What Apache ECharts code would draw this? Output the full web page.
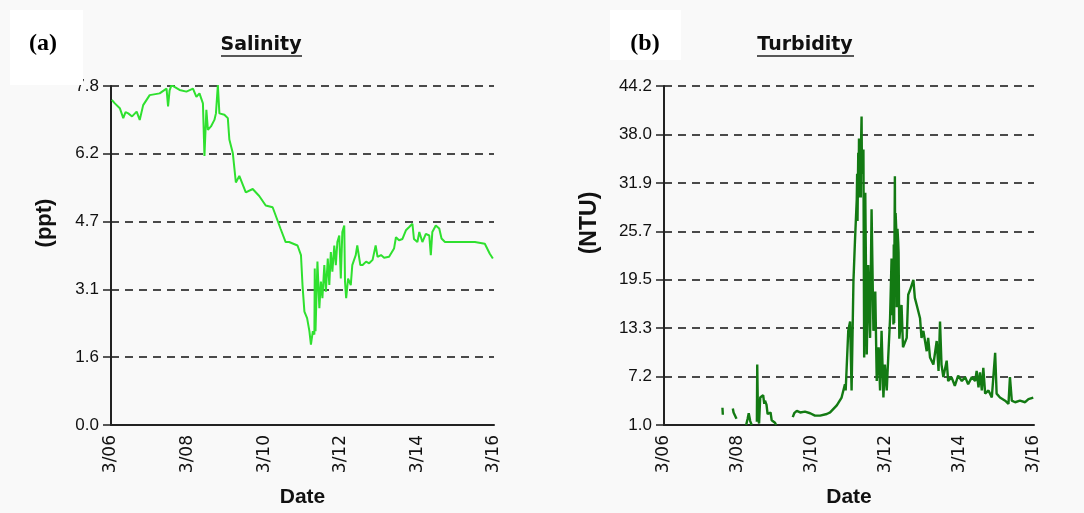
<!DOCTYPE html>
<html>
<head>
<meta charset="utf-8">
<script src="https://cdn.jsdelivr.net/npm/echarts@6/dist/echarts.min.js"></script>
<style>
html,body{margin:0;padding:0;background:#f9f9f9;}
#chart{width:1084px;height:513px;}
</style>
</head>
<body>
<div id="chart"></div>
<script>
// ---- data ----
const dateLabels = ['3/06','3/08','3/10','3/12','3/14','3/16'];
const salinityTicks = [0.0, 1.56, 3.12, 4.68, 6.24, 7.8];
const turbidityTicks = [1.0, 7.17, 13.34, 19.51, 25.69, 31.86, 38.03, 44.2];

// days since 3/06 00:00
const salinityDays = [0.02,0.10,0.23,0.32,0.38,0.45,0.55,0.67,0.75,0.84,1.01,1.27,1.45,1.49,1.53,1.58,1.79,1.97,2.14,2.23,2.31,2.40,2.44,2.49,2.53,2.61,2.70,2.74,2.79,2.83,2.96,3.05,3.09,3.18,3.26,3.35,3.52,3.70,3.87,4.04,4.22,4.30,4.43,4.56,4.65,4.87,4.96,5.00,5.05,5.12,5.18,5.22,5.27,5.31,5.32,5.34,5.39,5.44,5.48,5.52,5.57,5.61,5.66,5.70,5.74,5.78,5.83,5.87,5.91,5.96,6.00,6.04,6.09,6.11,6.14,6.19,6.26,6.30,6.39,6.43,6.48,6.51,6.57,6.66,6.74,6.83,6.91,6.96,7.05,7.13,7.26,7.39,7.44,7.52,7.61,7.70,7.78,7.87,7.91,8.00,8.05,8.13,8.22,8.31,8.35,8.39,8.48,8.57,8.63,8.72,9.06,9.50,9.76,9.89,9.97];
const salinityPpt = [7.48,7.40,7.29,7.06,7.20,7.17,7.10,7.21,7.02,7.36,7.59,7.63,7.74,7.33,7.70,7.82,7.71,7.67,7.74,7.55,7.63,7.40,6.19,7.25,6.79,6.87,7.02,7.17,7.82,7.17,7.14,7.06,6.57,6.26,5.58,5.73,5.35,5.43,5.27,5.05,5.01,4.82,4.51,4.21,4.21,4.13,3.91,3.22,2.61,2.46,2.16,1.85,2.16,2.08,3.60,2.16,3.76,2.69,3.30,2.92,3.68,3.07,3.83,3.22,3.98,3.53,4.13,3.68,4.21,4.36,3.37,4.44,4.59,3.30,2.92,3.37,3.22,3.68,3.91,4.13,4.13,3.68,3.68,3.76,3.72,3.80,4.13,3.87,3.91,3.85,3.87,4.06,4.32,4.25,4.28,4.48,4.55,4.63,4.28,4.21,4.44,4.21,4.40,4.36,3.91,4.44,4.59,4.52,4.29,4.21,4.21,4.21,4.17,3.94,3.83];

// null marks a gap in the record
const turbidityDays = [1.58,1.59,1.70, 1.86,1.88,1.92,1.94,1.96,2.10, 2.22,2.26,2.29,2.33,2.37,2.45, 2.51,2.52,2.54,2.57,2.60,2.64,2.68,2.71,2.73,2.77,2.80,2.84,2.88,2.91,2.95,3.00,3.03,3.30, 3.48,3.52,3.59,3.68,3.81,3.95,4.08,4.22,4.40,4.49,4.67,4.80,4.89,4.91,4.98,5.03,5.07,5.12,5.16,5.21,5.22,5.23,5.25,5.26,5.27,5.28,5.29,5.30,5.31,5.32,5.33,5.34,5.35,5.37,5.39,5.41,5.44,5.48,5.52,5.57,5.61,5.66,5.71,5.75,5.80,5.84,5.88,5.93,5.97,6.02,6.06,6.11,6.15,6.17,6.19,6.20,6.21,6.22,6.23,6.24,6.25,6.26,6.28,6.29,6.31,6.33,6.34,6.36,6.38,6.42,6.46,6.56,6.60,6.65,6.74,6.78,6.83,6.92,6.96,7.01,7.10,7.14,7.19,7.28,7.37,7.42,7.46,7.50,7.55,7.64,7.68,7.77,7.86,7.95,8.05,8.14,8.22,8.32,8.41,8.45,8.50,8.54,8.59,8.63,8.68,8.77,8.86,8.95,8.99,9.08,9.22,9.31,9.35,9.40,9.49,9.62,9.76,9.85,9.98];
const turbidityNtu = [3.2,2.3,null, 3.1,2.6,2.5,2.0,1.8,null, 1.0,1.8,2.5,1.5,1.0,null, 1.4,8.7,2.0,1.2,4.5,4.5,4.8,3.7,4.1,3.6,2.4,2.2,2.6,1.6,1.8,1.3,1.0,null, 2.0,2.5,2.8,2.6,2.7,2.5,2.2,2.2,2.4,2.6,3.5,4.5,6.2,5.4,13.0,14.2,5.4,19.3,24.3,29.8,33.0,27.0,35.7,30.0,37.5,30.5,37.0,33.0,36.5,30.0,38.0,40.3,33.0,34.0,36.1,9.6,30.6,10.0,21.4,12.1,28.5,13.0,18.0,6.6,10.9,5.4,13.0,4.5,8.7,5.4,9.6,14.6,22.2,15.0,22.0,13.8,24.0,14.0,25.0,32.7,20.0,28.0,25.6,16.0,26.0,24.3,23.0,12.0,13.0,16.3,10.9,12.1,17.6,18.2,19.5,17.2,16.3,14.6,12.1,13.0,10.4,12.1,9.6,8.7,11.7,7.9,14.2,8.7,7.1,9.2,6.6,7.1,6.0,7.3,6.6,7.1,6.2,7.1,6.6,7.9,5.8,7.7,5.4,8.3,5.0,5.4,4.5,10.2,5.0,4.5,4.1,3.7,7.1,4.1,3.9,4.1,3.9,4.3,4.5];

// ---- chart ----
const chart = echarts.init(document.getElementById('chart'));
const txt = '#111';
const tickFont = 'Liberation Sans';
const dateFmt = v => dateLabels[Math.round(v / 2)] || '';

function xAxisCfg(gridIndex) {
  return {
    type: 'value', gridIndex, min: 0, max: 10, interval: 2,
    axisLine: { show: true, lineStyle: { color: '#222', width: 2 } },
    axisTick: { show: false },
    splitLine: { show: false },
    axisLabel: { rotate: 90, margin: 10, formatter: dateFmt, color: txt, fontFamily: 'DejaVu Sans', fontSize: 17 },
    name: 'Date', nameLocation: 'middle', nameGap: 62,
    nameTextStyle: { fontFamily: 'Liberation Sans', fontWeight: 'bold', fontSize: 21, color: txt }
  };
}
function yAxisCfg(gridIndex, min, max, ticks) {
  return {
    type: 'value', gridIndex, min, max,
    axisLine: { show: true, lineStyle: { color: '#222', width: 2 } },
    axisTick: { show: true, length: 8, customValues: ticks, lineStyle: { color: '#222', width: 1.5 } },
    axisLabel: { customValues: ticks, margin: 12, formatter: v => Number(v).toFixed(1), color: txt, fontFamily: tickFont, fontSize: 17 },
    splitLine: { show: true, lineStyle: { color: '#111', width: 1.6, type: [8, 6] } }
  };
}

const salData = salinityDays.map((d, i) => [d, salinityPpt[i]]);
const turData = turbidityDays.map((d, i) => turbidityNtu[i] === null ? [d, '-'] : [d, turbidityNtu[i]]);

chart.setOption({
  backgroundColor: '#f9f9f9',
  animation: false,
  grid: [
    { left: 111, top: 86, width: 383, height: 342 },
    { left: 664, top: 86, width: 370, height: 342 }
  ],
  xAxis: [xAxisCfg(0), xAxisCfg(1)],
  yAxis: [
    yAxisCfg(0, 0, 7.8, salinityTicks),
    yAxisCfg(1, 1.0, 44.2, turbidityTicks)
  ],
  series: [
    { type: 'line', xAxisIndex: 0, yAxisIndex: 0, data: salData, showSymbol: false,
      lineStyle: { color: '#2fe02f', width: 2 }, itemStyle: { color: '#2fe02f' } },
    { type: 'line', xAxisIndex: 1, yAxisIndex: 1, data: turData, showSymbol: false, connectNulls: false,
      lineStyle: { color: '#137a13', width: 2.4 }, itemStyle: { color: '#137a13' } }
  ],
  graphic: [
    { type: 'rect', shape: { x: 10, y: 10, width: 73, height: 75 }, style: { fill: '#ffffff' }, z: 100 },
    { type: 'text', x: 43, y: 44, z: 101, style: { text: '(a)', font: 'bold 24px "Liberation Serif"', fill: '#000', textAlign: 'center', textVerticalAlign: 'middle' } },
    { type: 'rect', shape: { x: 610, y: 10, width: 71, height: 50 }, style: { fill: '#ffffff' }, z: 100 },
    { type: 'text', x: 645, y: 44, z: 101, style: { text: '(b)', font: 'bold 24px "Liberation Serif"', fill: '#000', textAlign: 'center', textVerticalAlign: 'middle' } },
    { type: 'text', x: 261, y: 45, z: 101, style: { text: 'Salinity', font: 'bold 19px "DejaVu Sans"', fill: '#111', textAlign: 'center', textVerticalAlign: 'middle' } },
    { type: 'line', z: 101, shape: { x1: 221, y1: 56, x2: 302, y2: 56 }, style: { stroke: '#222', lineWidth: 1.5 } },
    { type: 'text', x: 805, y: 45, z: 101, style: { text: 'Turbidity', font: 'bold 19px "DejaVu Sans"', fill: '#111', textAlign: 'center', textVerticalAlign: 'middle' } },
    { type: 'line', z: 101, shape: { x1: 757, y1: 56, x2: 854, y2: 56 }, style: { stroke: '#222', lineWidth: 1.5 } },
    { type: 'text', x: 45, y: 223, rotation: Math.PI / 2, z: 101, style: { text: '(ppt)', font: 'bold 22px "Liberation Sans"', fill: '#111', textAlign: 'center', textVerticalAlign: 'middle' } },
    { type: 'text', x: 590, y: 223, rotation: Math.PI / 2, z: 101, style: { text: '(NTU)', font: 'bold 23px "Liberation Sans"', fill: '#111', textAlign: 'center', textVerticalAlign: 'middle' } }
  ]
});
</script>
</body>
</html>
